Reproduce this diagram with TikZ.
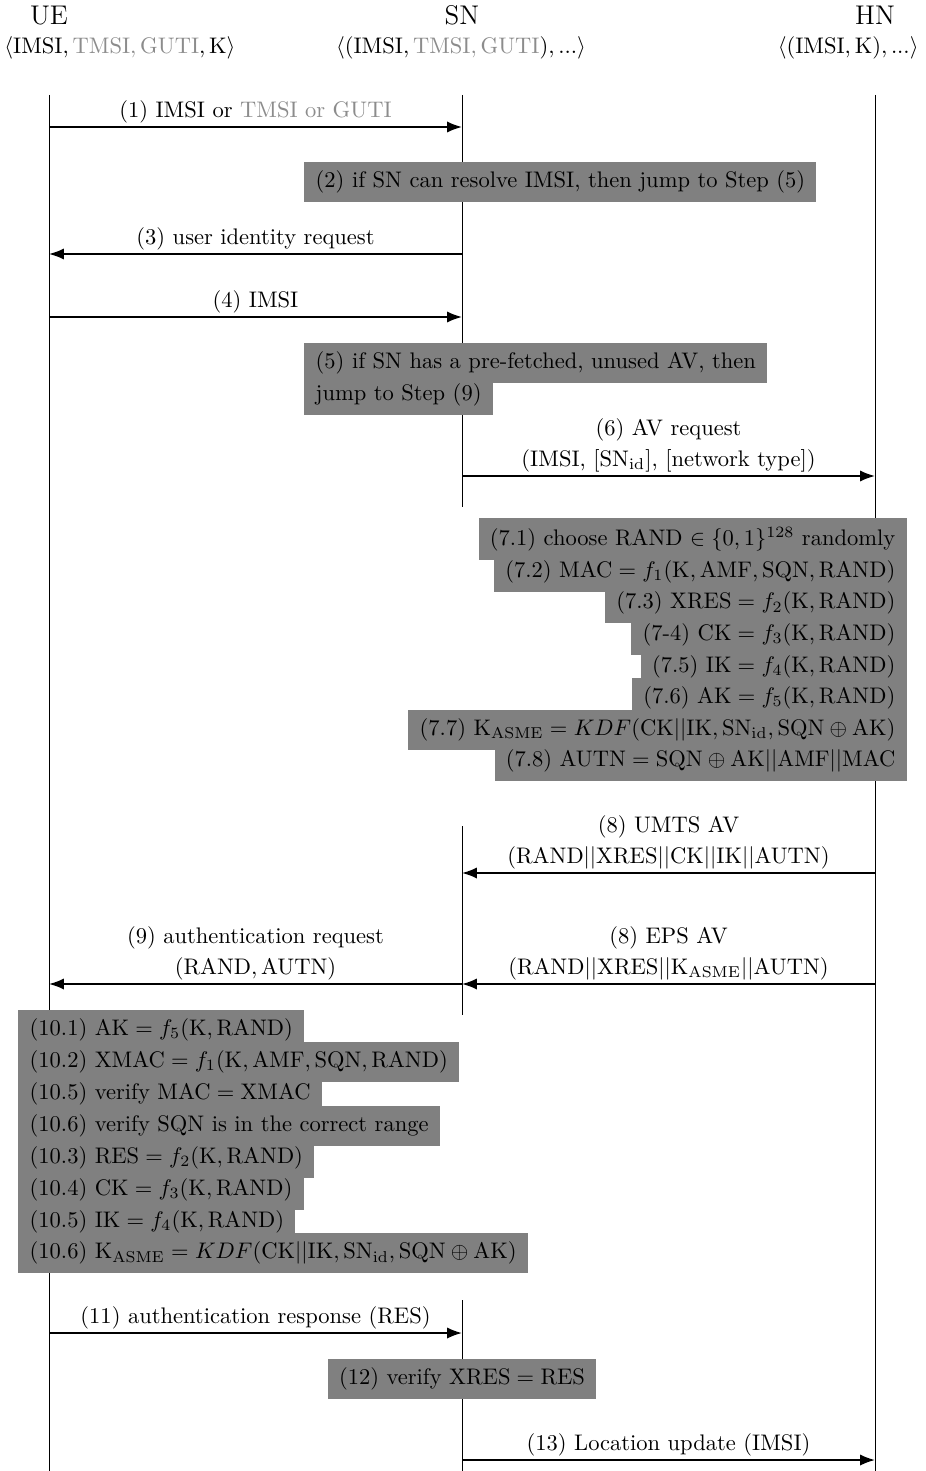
\documentclass[tikz,border=0pt]{standalone}
\usetikzlibrary{arrows.meta}
\definecolor{boxgray}{gray}{0.5}
\definecolor{idgray}{gray}{0.55}
\newcommand{\gr}[1]{\textcolor{idgray}{#1}}
\newcommand{\rmm}[1]{\mathrm{#1}}
\newcommand{\kasme}{\rmm{K}_{\rmm{ASME}}}
\newcommand{\snid}{\rmm{SN}_{\rmm{id}}}

\begin{document}
\begin{tikzpicture}[x=0.444pt,y=-0.444pt,
  actor/.style={font=\large, inner sep=0pt, anchor=base},
  state/.style={inner sep=0pt},
  lifeline/.style={line width=0.4pt},
  msg/.style={line width=0.8pt,-{Latex[length=6.6pt,width=5pt]}},
  lbl/.style={above, inner sep=1.5pt, align=center},
  calc/.style={fill=boxgray, inner xsep=5pt, inner ysep=3.9pt},
  calcL/.style={calc, anchor=base west},
  calcR/.style={calc, anchor=base east},
]
\useasboundingbox (0,0) rectangle (925,1471);

% participants and their stored identities
\node[actor] (UE) at (49,25) {UE};
\node[actor] (SN) at (462,25) {SN};
\node[actor] (HN) at (875,25) {HN};
\node[state, anchor=base west] (UEstore) at (4,54)
  {$\langle\rmm{IMSI}, \gr{\rmm{TMSI},\rmm{GUTI}}, \rmm{K}\rangle$};
\node[state, anchor=base] (SNstore) at (461,54)
  {$\langle(\rmm{IMSI}, \gr{\rmm{TMSI},\rmm{GUTI}}), ...\rangle$};
\node[state, anchor=base east] (HNstore) at (919,54)
  {$\langle(\rmm{IMSI},\rmm{K}), ...\rangle$};

% vertical levels
\coordinate (top) at (0,95);
\coordinate (bot) at (0,1471);
\coordinate (snA) at (0,507);
\coordinate (snB) at (0,826);
\coordinate (snC) at (0,1015);
\coordinate (snD) at (0,1300);
\coordinate (m1) at (0,127);
\coordinate (m3) at (0,254);
\coordinate (m4) at (0,317);
\coordinate (m6) at (0,476);
\coordinate (m8) at (0,873);
\coordinate (m9) at (0,984);
\coordinate (m11) at (0,1333);
\coordinate (m13) at (0,1460);

% lifelines
\draw[lifeline] (UE |- top) -- (UE |- bot);
\draw[lifeline] (HN |- top) -- (HN |- bot);
\draw[lifeline] (SN |- top) -- (SN |- snA);
\draw[lifeline] (SN |- snB) -- (SN |- snC);
\draw[lifeline] (SN |- snD) -- (SN |- bot);

% SN decisions
\node[calcL] (c2) at (304,187.6) {(2) if SN can resolve IMSI, then jump to Step (5)};
\node[calcL] (c5a) at (304,368.6) {(5) if SN has a pre-fetched, unused AV, then};
\node[calcL] (c5b) at (304,400.6) {jump to Step (9)};

% HN computes the authentication vector
\node[calcR] (c71) at (907,545.6) {(7.1) choose RAND $\in\{0,1\}^{128}$ randomly};
\node[calcR] (c72) at (907,577.2) {(7.2) $\rmm{MAC}=f_1(\rmm{K},\rmm{AMF},\rmm{SQN},\rmm{RAND})$};
\node[calcR] (c73) at (907,608.8) {(7.3) $\rmm{XRES}=f_2(\rmm{K},\rmm{RAND})$};
\node[calcR] (c74) at (907,640.4) {(7-4) $\rmm{CK}=f_3(\rmm{K},\rmm{RAND})$};
\node[calcR] (c75) at (907,672.0) {(7.5) $\rmm{IK}=f_4(\rmm{K},\rmm{RAND})$};
\node[calcR] (c76) at (907,703.6) {(7.6) $\rmm{AK}=f_5(\rmm{K},\rmm{RAND})$};
\node[calcR] (c77) at (907,735.2) {(7.7) $\kasme=KDF(\rmm{CK}||\rmm{IK},\snid,\rmm{SQN}\oplus\rmm{AK})$};
\node[calcR] (c78) at (907,766.8) {(7.8) $\rmm{AUTN}=\rmm{SQN}\oplus\rmm{AK}||\rmm{AMF}||\rmm{MAC}$};

% UE checks the network and derives keys
\node[calcL] (c101) at (18,1035.6) {(10.1) $\rmm{AK}=f_5(\rmm{K},\rmm{RAND})$};
\node[calcL] (c102) at (18,1067.5) {(10.2) $\rmm{XMAC}=f_1(\rmm{K},\rmm{AMF},\rmm{SQN},\rmm{RAND})$};
\node[calcL] (c105) at (18,1099.4) {(10.5) verify $\rmm{MAC}=\rmm{XMAC}$};
\node[calcL] (c106) at (18,1131.3) {(10.6) verify SQN is in the correct range};
\node[calcL] (c103) at (18,1163.2) {(10.3) $\rmm{RES}=f_2(\rmm{K},\rmm{RAND})$};
\node[calcL] (c104) at (18,1195.1) {(10.4) $\rmm{CK}=f_3(\rmm{K},\rmm{RAND})$};
\node[calcL] (c10ik) at (18,1227.0) {(10.5) $\rmm{IK}=f_4(\rmm{K},\rmm{RAND})$};
\node[calcL] (c10k) at (18,1258.9) {(10.6) $\kasme=KDF(\rmm{CK}||\rmm{IK},\snid,\rmm{SQN}\oplus\rmm{AK})$};

% SN verifies the response
\node[calc, anchor=base] (c12) at (462,1384.6) {(12) verify $\rmm{XRES}=\rmm{RES}$};

% messages
\draw[msg] (UE |- m1) -- node[lbl] {(1) IMSI or \gr{TMSI or GUTI}} (SN |- m1);
\draw[msg] (SN |- m3) -- node[lbl] {(3) user identity request} (UE |- m3);
\draw[msg] (UE |- m4) -- node[lbl] {(4) IMSI} (SN |- m4);
\draw[msg] (SN |- m6) -- node[lbl] {(6) AV request\\[1.8pt](IMSI, [SN$_{\rmm{id}}$], [network type])} (HN |- m6);
\draw[msg] (HN |- m8) -- node[lbl] {(8) UMTS AV\\[1.8pt]$(\rmm{RAND}||\rmm{XRES}||\rmm{CK}||\rmm{IK}||\rmm{AUTN})$} (SN |- m8);
\draw[msg] (SN |- m9) -- node[lbl] {(9) authentication request\\[1.8pt]$(\rmm{RAND},\rmm{AUTN})$} (UE |- m9);
\draw[msg] (HN |- m9) -- node[lbl] {(8) EPS AV\\[1.8pt]$(\rmm{RAND}||\rmm{XRES}||\kasme||\rmm{AUTN})$} (SN |- m9);
\draw[msg] (UE |- m11) -- node[lbl] {(11) authentication response (RES)} (SN |- m11);
\draw[msg] (SN |- m13) -- node[lbl] {(13) Location update (IMSI)} (HN |- m13);
\end{tikzpicture}
\end{document}
